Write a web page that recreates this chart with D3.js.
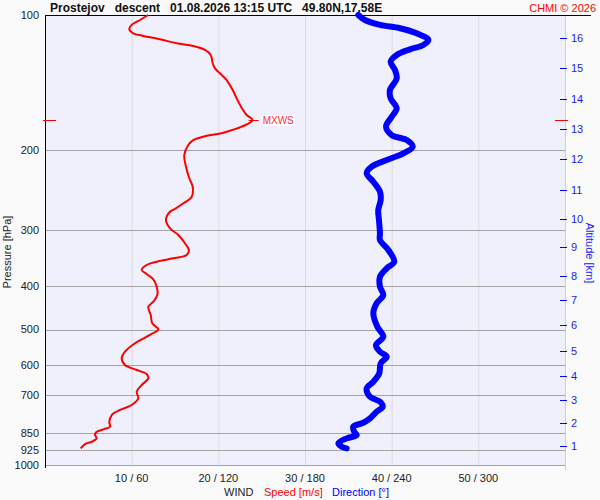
<!DOCTYPE html>
<html>
<head>
<meta charset="utf-8">
<script src="https://cdn.jsdelivr.net/npm/d3@7"></script>
<style>
  html, body { margin: 0; padding: 0; background: #fafafa; }
  svg { display: block; font-family: "Liberation Sans", Arial, sans-serif; }
</style>
</head>
<body>
<svg id="chart" width="600" height="500"></svg>
<script>
// ---- data ----
const speedPressure = [100,102.6,105.2,107.6,109.8,111.3,113.2,115.6,117.2,119.6,122.7,128.0,131.4,135.9,139.5,146.8,153.2,160.9,166.8,171.2,177.1,182.6,186.4,189.6,194.5,204.7,217.3,230.6,240.8,253.4,262.1,269.8,273.6,285.4,297.8,308.2,321.6,332.8,341.5,347.3,353.4,359.4,368.7,376.3,386.7,401.6,419.0,433.6,444.9,464.2,484.4,499.5,514.0,536.3,560.0,579.2,599.5,615.1,627.8,641.7,664.1,687.3,710.9,735.6,754.6,774.3,801.5,822.3,833.3,846.2,857.9,872.6,887.9,898.4,918.4];
const speed = [11.9,10.96,10.0,9.73,10.19,11.34,13.27,15.2,17.11,18.46,19.12,19.35,19.62,20.39,20.96,21.66,22.12,22.7,23.27,23.96,22.7,20.57,18.26,17.11,16.53,16.07,16.27,16.65,17.04,16.93,15.96,15.0,14.42,13.96,14.42,15.38,16.15,16.61,16.35,14.8,12.89,11.73,11.16,11.73,12.5,12.89,12.96,12.5,11.92,12.2,12.38,13.07,12.11,10.38,9.23,8.85,9.23,10.58,11.73,11.92,11.16,10.58,10.77,10.0,8.65,7.7,7.42,7.5,6.73,5.88,5.77,5.97,5.39,4.62,4.12];

const dirPressure = [100,102.6,105.2,107.0,109.8,113.6,116.6,119.2,122.7,127.0,132.5,138.3,146.8,153.2,161.2,168.3,177.1,184.8,189.6,196.2,202.9,210.0,217.3,224.8,234.7,247.0,257.7,271.3,285.4,305.5,316.2,332.8,353.4,365.5,381.6,401.6,419.0,437.2,460.2,492.9,518.5,541.2,560.0,574.5,594.3,625.6,653.0,675.6,705.2,723.3,742.0,761.3,787.6,805.6,822.3,843.6,857.9,872.6,894.8,910.5,918.4];
const direction = [216.9,221.5,231.9,245.8,257.3,265.4,261.9,252.7,243.5,239.3,242.3,243.5,238.8,239.3,243.5,240.0,236.1,240.0,250.4,254.6,248.1,236.6,226.2,222.7,227.3,231.9,232.4,230.7,231.2,231.9,231.9,237.7,241.8,236.6,231.9,231.9,234.2,229.6,227.3,230.1,234.2,229.1,231.9,236.6,232.4,231.4,227.3,222.7,225.0,231.9,233.8,229.6,225.0,220.4,213.4,214.1,215.8,208.9,203.1,205.4,208.9];

const maxWindPressure = 171.2;

const pressureTicks = [100,200,300,400,500,600,700,850,925,1000];
const gridPressures = [200,300,400,500,600,700,850,925,1000];

const windTickSpeeds = [10,20,30,40,50];
const windTickLabels = ["10 / 60","20 / 120","30 / 180","40 / 240","50 / 300"];

const altitudeKm = [1,2,3,4,5,6,7,8,9,10,11,12,13,14,15,16];
const altitudePressure = [907.6,807.8,717.1,633.2,558.0,488.6,429.8,380.2,328.3,284.4,244.8,209.3,179.5,153.9,131.4,112.7];

const titleText = "Prostejov   descent   01.08.2026 13:15 UTC   49.80N,17.58E";
const creditText = "CHMI \u00A9 2026";

// ---- layout ----
const L = 45, R = 565, T = 15, B = 465;
const svg = d3.select("#chart");

const x = d3.scaleLinear().domain([0, 60]).range([L, R]);
const xDir = d3.scaleLinear().domain([0, 360]).range([L, R]);
const y = d3.scaleLog().domain([100, 1000]).range([T, B]);

svg.append("rect").attr("x", 0).attr("y", 0).attr("width", 600).attr("height", 500).attr("fill", "#fafafa");
svg.append("rect").attr("x", L).attr("y", T).attr("width", R - L).attr("height", B - T).attr("fill", "#f0f0fd");

// vertical gridlines
svg.append("g").selectAll("line").data(windTickSpeeds).join("line")
  .attr("x1", d => x(d) + 0.5).attr("x2", d => x(d) + 0.5)
  .attr("y1", T).attr("y2", B)
  .attr("stroke", "#dcdcdc").attr("stroke-width", 1);

// right border (altitude axis)
svg.append("line").attr("x1", x(60) + 0.5).attr("x2", x(60) + 0.5).attr("y1", T).attr("y2", B + 5)
  .attr("stroke", "#cfcfcf");

// horizontal gridlines
svg.append("g").selectAll("line").data(gridPressures).join("line")
  .attr("x1", L).attr("x2", R)
  .attr("y1", d => Math.round(y(d)) + 0.5).attr("y2", d => Math.round(y(d)) + 0.5)
  .attr("stroke", "#a4a4a4").attr("stroke-width", 1);

// top line
svg.append("line").attr("x1", L).attr("x2", 591).attr("y1", T + 0.5).attr("y2", T + 0.5)
  .attr("stroke", "#000");
// left axis
svg.append("line").attr("x1", L + 0.5).attr("x2", L + 0.5).attr("y1", T).attr("y2", B + 3)
  .attr("stroke", "#000");

// pressure labels
svg.append("g").selectAll("text").data(pressureTicks).join("text")
  .attr("x", 39).attr("y", d => y(d)).attr("dy", "0.35em")
  .attr("text-anchor", "end").attr("font-size", 11).attr("fill", "#222")
  .text(d => d);

svg.append("text").attr("transform", "translate(11,252) rotate(-90)")
  .attr("text-anchor", "middle").attr("font-size", 11).attr("fill", "#222")
  .text("Pressure [hPa]");

// bottom labels
svg.append("g").selectAll("text").data(windTickSpeeds).join("text")
  .attr("x", d => x(d)).attr("y", 482)
  .attr("text-anchor", "middle").attr("font-size", 11).attr("fill", "#222")
  .text((d, i) => windTickLabels[i]);

const leg = svg.append("text").attr("y", 496).attr("font-size", 11).attr("style", "white-space: pre");
leg.append("tspan").attr("x", 224).attr("fill", "#222").text("WIND");
leg.append("tspan").attr("x", 264).attr("fill", "#ff0000").text("Speed [m/s]");
leg.append("tspan").attr("x", 332).attr("fill", "#0000ff").text("Direction [\u00B0]");

// altitude axis
const altG = svg.append("g");
altG.selectAll("line").data(altitudePressure).join("line")
  .attr("x1", 560).attr("x2", 567)
  .attr("y1", d => Math.round(y(d)) + 0.5).attr("y2", d => Math.round(y(d)) + 0.5)
  .attr("stroke", "#0000ff");
altG.selectAll("text").data(altitudePressure).join("text")
  .attr("x", 571).attr("y", d => y(d)).attr("dy", "0.35em")
  .attr("font-size", 11).attr("fill", "#1a1aff")
  .text((d, i) => altitudeKm[i]);
svg.append("text").attr("transform", "translate(586,253) rotate(90)")
  .attr("text-anchor", "middle").attr("font-size", 11).attr("fill", "#1a1aff")
  .text("Altitude [km]");

// title & credit
svg.append("text").attr("x", 50).attr("y", 12).attr("font-size", 12).attr("font-weight", "bold")
  .attr("fill", "#111").attr("style", "white-space: pre").text(titleText);
svg.append("text").attr("x", 596).attr("y", 12).attr("text-anchor", "end").attr("font-size", 11)
  .attr("fill", "#ff0000").text(creditText);

// direction line
const dirData = dirPressure.map((p, i) => [p, direction[i]]);
svg.append("path").datum(dirData)
  .attr("fill", "none").attr("stroke", "#0000ff").attr("stroke-width", 6)
  .attr("stroke-linecap", "round").attr("stroke-linejoin", "round")
  .attr("d", d3.line().x(d => xDir(d[1])).y(d => y(d[0])).curve(d3.curveCatmullRom));

// speed line
const spdData = speedPressure.map((p, i) => [p, speed[i]]);
svg.append("path").datum(spdData)
  .attr("fill", "none").attr("stroke", "#ff0000").attr("stroke-width", 2)
  .attr("stroke-linejoin", "round")
  .attr("d", d3.line().x(d => x(d[1])).y(d => y(d[0])).curve(d3.curveCatmullRom));

// max wind markers
const maxIdx = speed.indexOf(d3.max(speed));
const my = Math.round(y(maxWindPressure)) + 0.5;
const mx = x(speed[maxIdx]);
svg.append("line").attr("x1", 43).attr("x2", 56).attr("y1", my).attr("y2", my).attr("stroke", "#ff0000");
svg.append("line").attr("x1", 555).attr("x2", 568).attr("y1", my).attr("y2", my).attr("stroke", "#ff0000");
svg.append("line").attr("x1", mx - 4).attr("x2", mx + 6).attr("y1", my).attr("y2", my).attr("stroke", "#ff0000");
const lbl = svg.append("text").attr("x", mx + 10).attr("y", my).attr("dy", "0.35em")
  .attr("font-size", 10).attr("fill", "#ff3030").text("MXWS");
const bb = lbl.node().getBBox();
svg.insert("rect", () => lbl.node()).attr("x", bb.x - 1).attr("y", bb.y).attr("width", bb.width + 2).attr("height", bb.height)
  .attr("fill", "#ffffff");
</script>
</body>
</html>
